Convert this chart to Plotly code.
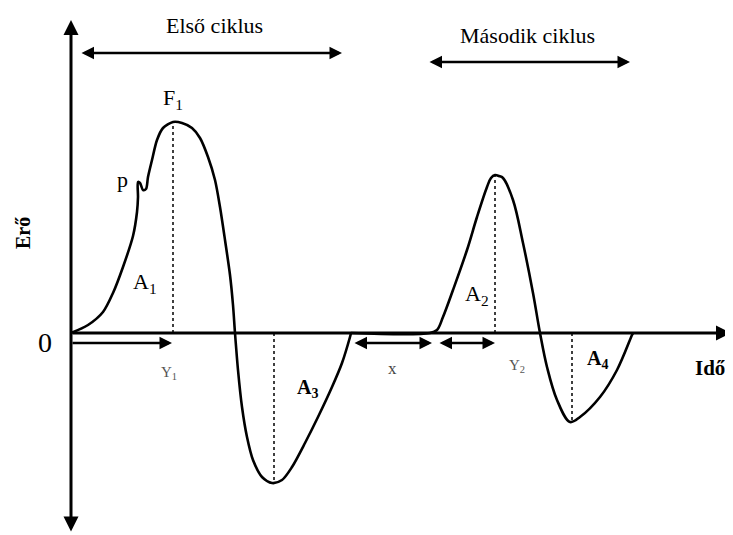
import plotly.graph_objects as go

# sketch of force vs time, two cycles (time / force in arbitrary units)
ido1 = [0, 17, 32, 42, 52, 62, 66, 67, 67, 69, 72, 75, 77, 81, 86, 92, 102, 111, 121, 129,
        137, 144, 149, 154, 159, 162, 164, 167, 171, 176, 182, 191, 201, 211, 221, 234,
        247, 261, 271, 279, 280]
ero1 = [0, 8, 21, 40, 66, 97, 121, 136, 151, 150, 143, 144, 156, 173, 193, 205, 211, 210, 205, 195,
        176, 153, 126, 93, 58, 28, 0, -37, -74, -104, -127, -144, -150, -147, -134, -110,
        -84, -54, -30, -4, 0]

ido2 = [280, 359, 366, 372, 382, 396, 406, 416, 420, 424, 428, 432, 442, 452, 462, 469,
        476, 486, 499, 509, 529, 546, 561, 562]
ero2 = [0, 0, 3, 16, 43, 83, 116, 146, 155, 158, 157, 155, 133, 90, 40, 0,
        -34, -67, -89, -84, -64, -37, -2, 0]

# dotted drop lines: (time, force at curve)
csucs_t = [102, 203, 424, 501]
csucs_f = [211, -150, 158, -89]

font_family = "Liberation Serif"

fig = go.Figure()
for xs, ys, sm in [(ido1, ero1, 0.8), (ido2, ero2, 1.0)]:
    fig.add_trace(go.Scatter(x=xs, y=ys, mode='lines',
                             line=dict(color='black', width=2.6, shape='spline', smoothing=sm),
                             hoverinfo='skip'))
for t, f in zip(csucs_t, csucs_f):
    fig.add_trace(go.Scatter(x=[t, t], y=[0, f], mode='lines',
                             line=dict(color='black', width=1.5, dash='dot'),
                             hoverinfo='skip'))


def nyil(x0, y0, x1, y1, ket=False, w=2.5):
    fig.add_annotation(x=x1, y=y1, ax=x0, ay=y0, xref='x', yref='y', axref='x', ayref='y',
                       text='', showarrow=True, arrowhead=2, arrowsize=1, arrowwidth=w,
                       arrowcolor='black', arrowside='end+start' if ket else 'end',
                       standoff=0, startstandoff=0)


# axes
nyil(0, 0, 660, 0, w=3)
nyil(0, -200, 0, 313, ket=True, w=3)
# cycle arrows
nyil(9, 280, 271, 280, ket=True)
nyil(357, 271, 559, 271, ket=True)
# under-axis arrows
nyil(0, -10, 101, -10)
nyil(282, -10, 361, -10, ket=True)
nyil(367, -10, 424, -10, ket=True)

labels = [
    ("Első ciklus", 143, 308, 22, False, 'black'),
    ("Második ciklus", 456, 298, 22, False, 'black'),
    ("F<sub>1</sub>", 102, 234, 22, False, 'black'),
    ("p", 51, 154, 22, False, 'black'),
    ("A<sub>1</sub>", 74, 50, 22, False, 'black'),
    ("Y<sub>1</sub>", 98, -40, 15, False, '#555'),
    ("A<sub>3</sub>", 236, -55, 20, True, 'black'),
    ("x", 321, -35, 17, False, '#444'),
    ("A<sub>2</sub>", 406, 38, 22, False, 'black'),
    ("Y<sub>2</sub>", 446, -33, 15, False, '#555'),
    ("A<sub>4</sub>", 526, -26, 20, True, 'black'),
    ("Idő", 639, -35, 21, True, 'black'),
    ("0", -26, -9, 28, False, 'black'),
]
for txt, x, y, size, bold, col in labels:
    fig.add_annotation(x=x, y=y, text=f"<b>{txt}</b>" if bold else txt, showarrow=False,
                       font=dict(family=font_family, size=size, color=col))

fig.add_annotation(x=-48, y=100, text="<b>Erő</b>", showarrow=False, textangle=-90,
                   font=dict(family=font_family, size=20, color='black'))

# ranges shifted by the 8px page margin so marks land where the reference has them
fig.update_layout(
    width=733, height=535,
    margin=dict(l=0, r=0, t=0, b=0),
    plot_bgcolor='white', paper_bgcolor='white',
    showlegend=False,
    xaxis=dict(range=[-63, 670], visible=False),
    yaxis=dict(range=[-210, 325], visible=False),
)

fig.write_html("out.html")
